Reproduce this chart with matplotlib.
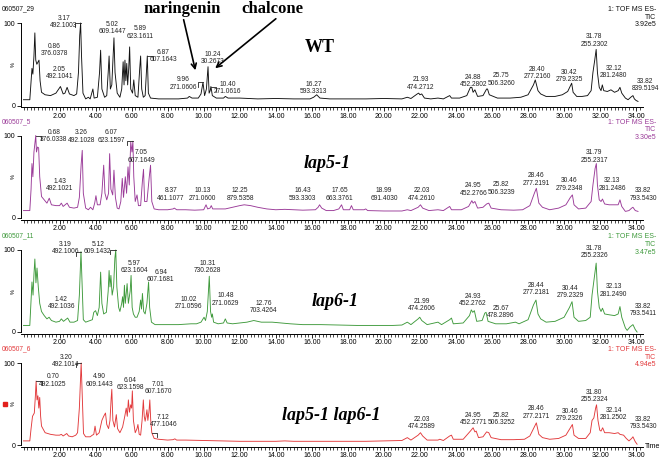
import matplotlib.pyplot as plt
from matplotlib.patches import FancyArrowPatch, Rectangle
import numpy as np

# chromatogram traces: (time min, % intensity)
wt_trace = [(0.00,7),(0.35,7),(0.42,30),(0.47,45),(0.52,38),(0.58,60),(0.63,88),(0.68,55),(0.74,50),(0.81,53),(0.86,55),(0.92,30),(1.00,16),(1.2,13),(1.5,12),(1.8,15),(2.05,23),(2.2,14),(2.3,15),(2.42,22),(2.55,14),(2.8,12),(2.95,14),(3.05,40),(3.12,85),(3.17,100),(3.22,60),(3.30,15),(3.45,8),(3.6,10),(3.7,8),(3.85,20),(3.92,9),(4.1,10),(4.22,40),(4.28,67),(4.35,20),(4.5,10),(4.62,12),(4.70,40),(4.75,60),(4.82,20),(4.9,25),(4.97,60),(5.02,82),(5.08,40),(5.2,15),(5.35,10),(5.45,20),(5.53,53),(5.58,25),(5.63,55),(5.68,30),(5.73,51),(5.78,25),(5.84,45),(5.89,71),(5.95,20),(6.05,15),(6.12,31),(6.2,12),(6.35,10),(6.45,45),(6.5,60),(6.56,20),(6.65,10),(6.75,12),(6.82,40),(6.87,60),(6.93,15),(7.05,9),(7.5,8),(8.2,8),(8.6,8),(9.1,9),(9.2,11),(9.35,9),(9.7,9),(9.85,14),(9.96,28),(10.05,12),(10.15,20),(10.24,47),(10.3,15),(10.36,18),(10.40,23),(10.48,12),(10.7,9),(11.1,9),(11.2,11),(11.35,9),(12.0,9),(13,8),(14,8.5),(15,8),(15.9,8),(16.1,10),(16.27,13),(16.45,9),(17.0,8),(18,8),(19,8),(20,8.5),(21,8),(21.3,10),(21.5,8.5),(21.85,14),(21.93,15),(22.0,13),(22.1,14),(22.25,9),(22.6,8),(23.0,9),(23.3,8),(23.65,12),(23.75,9),(24.2,9),(24.6,12),(24.8,22),(24.88,22),(24.95,16),(25.05,19),(25.2,11),(25.5,12),(25.7,20),(25.75,20),(25.85,13),(26.3,9),(27,9),(27.6,10),(28.0,13),(28.3,25),(28.4,31),(28.55,18),(28.7,14),(29.0,11),(29.5,11),(29.9,13),(30.2,17),(30.35,24),(30.42,27),(30.5,16),(30.7,11),(31.0,11),(31.3,12),(31.5,18),(31.6,40),(31.7,55),(31.78,68),(31.85,40),(31.95,22),(32.05,18),(32.12,25),(32.2,18),(32.4,17),(32.6,19),(32.8,16),(33.0,18),(33.1,22),(33.2,15),(33.4,9),(33.55,7),(33.7,10),(33.82,12),(33.9,8),(34.0,6),(34.1,5)]

lap5_trace = [(0.00,9),(0.35,9),(0.42,35),(0.47,66),(0.52,50),(0.58,80),(0.63,90),(0.68,100),(0.72,80),(0.78,86),(0.84,85),(0.9,50),(1.0,26),(1.15,22),(1.3,18),(1.43,24),(1.55,16),(1.8,15),(2.0,15),(2.1,18),(2.2,14),(2.42,18),(2.55,13),(2.8,12),(3.0,13),(3.1,25),(3.2,65),(3.26,82),(3.32,30),(3.45,12),(3.6,10),(3.72,13),(3.85,10),(3.95,18),(4.02,27),(4.1,16),(4.25,16),(4.35,30),(4.45,64),(4.52,30),(4.62,22),(4.72,30),(4.78,78),(4.85,35),(4.95,28),(5.02,58),(5.1,25),(5.2,12),(5.3,11),(5.4,20),(5.48,48),(5.55,25),(5.65,50),(5.72,30),(5.8,62),(5.87,40),(5.95,92),(6.02,80),(6.07,93),(6.12,50),(6.2,20),(6.3,28),(6.38,15),(6.5,15),(6.6,45),(6.66,59),(6.72,20),(6.85,20),(6.98,50),(7.05,64),(7.12,20),(7.25,11),(7.5,10),(8.0,10),(8.3,11),(8.37,12),(8.5,10),(9.0,10),(9.5,9.5),(10.0,10),(10.13,16),(10.22,11),(10.35,12),(10.42,15),(10.5,11),(10.8,11),(11.2,11),(11.6,13),(12.0,15),(12.25,16),(12.6,15),(13.0,13),(13.5,11),(14,10),(14.5,10.5),(15,10),(15.5,9.5),(16.2,10),(16.35,13),(16.43,16),(16.55,12),(16.8,9),(17.2,9),(17.5,11),(17.65,16),(17.75,10),(18.1,10),(18.2,15),(18.3,10),(18.9,10),(18.99,11),(19.1,9),(20,8.5),(21,8.5),(21.3,10),(21.5,9),(21.9,13),(22.03,16),(22.15,12),(22.5,9),(23.0,10),(23.3,9),(23.65,14),(23.75,10),(24.3,10),(24.7,14),(24.88,21),(24.95,18),(25.05,20),(25.2,12),(25.5,13),(25.7,17),(25.82,18),(25.95,12),(26.5,10),(27.2,9.5),(27.7,10),(28.1,15),(28.35,30),(28.46,36),(28.6,18),(28.8,13),(29.2,10),(29.7,12),(30.1,16),(30.35,25),(30.46,28),(30.55,16),(30.8,11),(31.2,12),(31.5,20),(31.6,40),(31.72,60),(31.79,66),(31.85,40),(31.95,22),(32.05,20),(32.13,23),(32.25,17),(32.5,16),(32.8,16),(33.0,16),(33.1,22),(33.2,14),(33.4,8),(33.6,9),(33.75,12),(33.82,13),(33.95,9),(34.1,8)]

lap6_trace = [(0.00,8),(0.35,8),(0.42,40),(0.47,61),(0.53,45),(0.58,70),(0.63,89),(0.69,60),(0.75,78),(0.82,55),(0.9,35),(1.0,25),(1.15,20),(1.3,16),(1.42,18),(1.55,14),(1.8,12),(2.0,13),(2.1,16),(2.22,13),(2.45,17),(2.58,12),(2.8,12),(3.0,14),(3.1,45),(3.19,98),(3.25,60),(3.32,15),(3.45,12),(3.7,14),(3.82,15),(3.9,24),(4.0,26),(4.1,20),(4.2,30),(4.28,73),(4.35,35),(4.45,22),(4.6,24),(4.7,50),(4.75,75),(4.8,55),(4.85,69),(4.92,45),(5.0,55),(5.07,90),(5.12,100),(5.18,55),(5.28,30),(5.35,25),(5.45,35),(5.5,43),(5.55,30),(5.6,57),(5.65,35),(5.75,59),(5.82,35),(5.92,50),(5.97,69),(6.03,30),(6.1,22),(6.2,18),(6.3,18),(6.42,25),(6.5,39),(6.55,28),(6.6,47),(6.67,25),(6.75,22),(6.85,35),(6.94,61),(7.0,30),(7.1,12),(7.3,9),(8,9),(8.6,9),(9.0,9.5),(9.3,10),(9.6,10),(9.85,12),(10.02,18),(10.1,14),(10.2,25),(10.31,68),(10.38,25),(10.44,18),(10.48,22),(10.55,12),(10.8,10),(11.1,11),(11.2,16),(11.3,11),(11.6,10),(12.0,11),(12.4,12),(12.78,14),(13.2,12),(13.8,12),(14.3,11),(14.8,10),(15.5,9),(16.5,9),(17.5,8.5),(18.5,8),(19.5,8),(20.5,8),(21.0,8.5),(21.3,12),(21.5,9),(21.9,16),(21.99,18),(22.1,14),(22.4,9),(23.0,12),(23.2,9),(23.65,15),(23.75,17),(23.85,10),(24.4,11),(24.75,20),(24.85,27),(24.93,24),(25.02,26),(25.15,13),(25.45,14),(25.6,23),(25.67,24),(25.78,13),(26.2,10),(26.8,10),(27.3,12),(27.5,10),(28.0,15),(28.3,33),(28.44,39),(28.55,22),(28.7,16),(29.0,12),(29.5,13),(30.0,18),(30.3,30),(30.44,37),(30.55,18),(30.8,13),(31.2,14),(31.45,18),(31.55,45),(31.7,70),(31.78,84),(31.85,50),(31.95,30),(32.05,25),(32.13,29),(32.25,22),(32.5,21),(32.8,20),(33.0,22),(33.1,31),(33.2,18),(33.4,5),(33.5,2),(33.65,6),(33.82,9),(33.95,3),(34.05,0)]

dbl_trace = [(0.00,5),(0.35,5),(0.42,20),(0.5,35),(0.6,39),(0.66,60),(0.70,78),(0.75,55),(0.8,60),(0.85,45),(0.9,58),(0.95,35),(1.0,23),(1.2,15),(1.5,13),(1.8,12),(2.0,12),(2.1,13),(2.2,11),(2.4,14),(2.5,11),(2.7,10),(2.9,12),(3.0,15),(3.1,45),(3.20,100),(3.26,60),(3.33,14),(3.45,10),(3.7,10),(3.82,12),(3.9,13),(3.97,23),(4.05,12),(4.2,15),(4.35,30),(4.45,35),(4.55,39),(4.62,25),(4.72,20),(4.8,30),(4.86,55),(4.90,68),(4.96,30),(5.05,22),(5.15,37),(5.22,20),(5.35,15),(5.5,22),(5.62,35),(5.7,45),(5.76,35),(5.82,55),(5.88,40),(5.95,49),(6.0,45),(6.04,66),(6.1,30),(6.2,15),(6.3,20),(6.35,25),(6.42,13),(6.5,12),(6.58,30),(6.65,55),(6.7,35),(6.75,29),(6.8,35),(6.85,43),(6.9,30),(6.96,40),(7.01,55),(7.06,30),(7.12,15),(7.25,8),(7.5,7),(8.0,6),(8.3,6.5),(8.4,7.5),(8.5,6),(9,6),(10,5.5),(11,5),(12,4.5),(13,4.5),(14,4.5),(14.5,5),(15,4.5),(16,4.5),(17,4.5),(18,4.5),(19,4.5),(20,5),(21.0,5.5),(21.3,9),(21.5,6),(21.9,12),(22.03,15),(22.15,11),(22.4,6),(23.0,6),(23.1,7),(23.3,5.5),(23.65,11),(23.75,12),(23.85,7),(24.4,7),(24.8,17),(24.95,21),(25.05,16),(25.12,17),(25.25,9),(25.5,10),(25.7,16),(25.82,15),(25.95,9),(26.5,6.5),(27.2,6.5),(27.8,7),(28.1,11),(28.35,22),(28.46,27),(28.6,13),(28.8,9),(29.2,7),(29.7,8),(30.1,12),(30.35,21),(30.46,25),(30.55,12),(30.8,8),(31.2,8),(31.45,15),(31.55,30),(31.65,33),(31.75,45),(31.80,49),(31.88,30),(31.98,18),(32.05,17),(32.14,21),(32.25,15),(32.5,15),(32.8,14),(33.0,15),(33.1,13),(33.3,12),(33.45,8),(33.6,5),(33.75,8),(33.82,10),(33.95,4),(34.05,1)]

# peak labels (rt, m/z)
wt_peaks = [("0.86","376.0378"),("2.05","492.1041"),("3.17","492.1003"),("5.02","609.1447"),("5.89","623.1611"),("6.87","607.1643"),("9.96","271.0606"),("10.24","30.2673"),("10.40","271.0616"),("16.27","593.3313"),("21.93","474.2712"),("24.88","452.2802"),("25.75","506.3260"),("28.40","277.2160"),("30.42","279.2325"),("31.78","255.2302"),("32.12","281.2480"),("33.82","839.5194")]
lap5_peaks = [("0.68","376.0338"),("1.43","492.1021"),("3.26","492.1028"),("6.07","623.1597"),("7.05","607.1649"),("8.37","461.1077"),("10.13","271.0600"),("12.25","879.5358"),("16.43","593.3303"),("17.65","663.3761"),("18.99","691.4030"),("22.03","474.2610"),("24.95","452.2766"),("25.82","506.3239"),("28.46","277.2191"),("30.46","279.2348"),("31.79","255.2317"),("32.13","281.2486"),("33.82","793.5430")]
lap6_peaks = [("3.19","492.1006"),("5.12","609.1432"),("1.42","492.1036"),("5.97","623.1604"),("6.94","607.1681"),("10.02","271.0596"),("10.31","730.2628"),("10.48","271.0629"),("12.76","703.4264"),("21.99","474.2606"),("24.93","452.2762"),("25.67","478.2896"),("28.44","277.2181"),("30.44","279.2329"),("31.78","255.2326"),("32.13","281.2490"),("33.82","793.5411")]
dbl_peaks = [("0.70","492.1025"),("3.20","492.1014"),("4.90","609.1443"),("6.04","623.1598"),("7.01","607.1670"),("7.12","477.1046"),("22.03","474.2589"),("24.95","452.2771"),("25.82","506.3252"),("28.46","277.2171"),("30.46","279.2326"),("31.80","255.2324"),("32.14","281.2502"),("33.82","793.5430")]

files = ["060507_29", "060507_5", "060507_11", "060507_6"]
scales = ["3.92e5", "3.30e5", "3.47e5", "4.94e5"]
names = ["WT", "lap5-1", "lap6-1", "lap5-1 lap6-1"]

# layout: label anchor (x in min, bottom in %) for each peak label
wt_lpos = [(1.72,59),(2.0,31),(2.25,93),(4.93,85),(6.49,80),(7.77,51),(8.87,18),(10.52,49),(11.34,13),(16.1,13),(22.04,18),(24.97,21),(26.5,23),(28.5,31),(30.3,27),(31.68,70),(32.76,32),(34.5,16)]
lap5_lpos = [(1.68,91),(2.0,31),(3.2,90),(4.86,90),(6.53,66),(8.19,20),(9.95,20),(12.02,20),(15.5,20),(17.55,20),(20.0,20),(22.1,20),(24.97,26),(26.5,27),(28.45,38),(30.3,32),(31.68,66),(32.67,32),(34.4,20)]
lap6_lpos = [(2.32,94),(4.12,94),(2.09,27),(6.14,71),(7.62,60),(9.18,27),(10.2,71),(11.2,31),(13.33,22),(22.1,24),(24.94,30),(26.5,16),(28.45,44),(30.32,40),(31.68,89),(32.76,42),(34.4,18)]
dbl_lpos = [(1.63,70),(2.35,94),(4.2,70),(5.94,66),(7.49,61),(7.77,21),(22.1,18),(24.97,23),(26.5,23),(28.45,31),(30.32,28),(31.68,51),(32.76,29),(34.4,18)]
# brackets joining a label to its apex: (apex time, apex %, side)
wt_br = [(3.17,100,-1),(6.87,60,1),(9.96,28,-1),(10.40,23,1)]
lap5_br = [(0.68,100,1),(6.07,93,-1)]
lap6_br = [(3.19,98,-1),(5.12,100,-1)]
dbl_br = [(3.20,100,-1),(0.70,78,1),(7.12,15,1)]

colors = ["#111111", "#9a3a98", "#3f9a3c", "#e2393b"]
W, H = 662, 458
T0, PXMIN = 23.5, 18.02
XL, XR = 21, 643
panel_px = [(105.5, 23), (218, 135.5), (332, 250), (445, 363)]

plt.rcParams['font.family'] = ['Liberation Sans', 'DejaVu Sans']
fig = plt.figure(figsize=(W / 100, H / 100), dpi=100)

def fx(px):
    return px / W

def fy(py):
    return 1 - py / H

traces = [wt_trace, lap5_trace, lap6_trace, dbl_trace]
peaks = [wt_peaks, lap5_peaks, lap6_peaks, dbl_peaks]
lposs = [wt_lpos, lap5_lpos, lap6_lpos, dbl_lpos]
brs = [wt_br, lap5_br, lap6_br, dbl_br]
for i in range(4):
    y0, y100 = panel_px[i]
    s = (y0 - y100) / 100.0
    bot, top = y0 + 2 * s, y100 - 2 * s
    ax = fig.add_axes([fx(XL), fy(bot), fx(XR - XL), (bot - top) / H])
    ax.set_xlim((XL - T0) / PXMIN, (XR - T0) / PXMIN)
    ax.set_ylim(-2, 102)
    c = colors[i]
    t = np.array([p[0] for p in traces[i]])
    v = np.array([p[1] for p in traces[i]])
    ax.plot(t, v, color=c, lw=0.65)
    for (rt, mz), (lx, ly) in zip(peaks[i], lposs[i]):
        ax.text(lx, ly, rt + "\n" + mz, ha='center', va='bottom', fontsize=4.8,
                linespacing=1.05, color='#222222', clip_on=False)
    for (bt, bh, side) in brs[i]:
        ax.plot([bt, bt + side * 0.3, bt + side * 0.3], [bh, bh, bh - 5],
                color='#222222', lw=0.6, clip_on=False)
    for sp in ['top', 'right']:
        ax.spines[sp].set_visible(False)
    ax.spines['left'].set_bounds(0, 100)
    ax.spines['left'].set_linewidth(0.7)
    ax.spines['bottom'].set_linewidth(0.7)
    ax.set_xticks(np.arange(2, 35, 2))
    ax.set_xticklabels(["%.2f" % x for x in np.arange(2, 35, 2)])
    ax.set_xticks(np.arange(0, 34.4, 0.2), minor=True)
    ax.tick_params(axis='x', which='major', length=3, width=0.6, labelsize=5, pad=1)
    ax.tick_params(axis='x', which='minor', length=2, width=0.5)
    ax.set_yticks([0, 100])
    ax.set_yticklabels(["0", "100"])
    ax.tick_params(axis='y', length=3, width=0.6, labelsize=5, pad=1)
    ax.text(-0.55, 50, "%", rotation=90, ha='center', va='center', fontsize=4, clip_on=False)
    fig.text(fx(2), fy(y100 - 14), files[i], fontsize=4.8, color=c, va='center', ha='left')
    fig.text(fx(656), fy(y100 - 17), "1: TOF MS ES-\nTIC\n" + scales[i], fontsize=5,
             color=c, ha='right', va='top', linespacing=1.15)
    ax.patch.set_alpha(0)

name_pos = [(320, 48), (327, 163), (335, 302), (331, 416)]
for i in range(4):
    fig.text(fx(name_pos[i][0]), fy(name_pos[i][1]), names[i], family='Liberation Serif',
             fontweight='bold', style='normal' if i == 0 else 'italic', fontsize=13,
             ha='center', va='center')

fig.text(fx(182), fy(9), "naringenin", family='Liberation Serif', fontweight='bold',
         fontsize=12, ha='center', va='center')
fig.text(fx(272), fy(9), "chalcone", family='Liberation Serif', fontweight='bold',
         fontsize=12, ha='center', va='center')
for (x1, y1, x2, y2) in [(183, 17, 196, 73), (278, 17, 213, 70)]:
    fig.add_artist(FancyArrowPatch((fx(x1), fy(y1)), (fx(x2), fy(y2)), transform=fig.transFigure,
                                   arrowstyle='->', mutation_scale=9, lw=1.2, color='black'))

fig.add_artist(Rectangle((fx(3), fy(406)), fx(4), 4 / H, transform=fig.transFigure,
                         color='#e2201c'))
fig.text(fx(645), fy(446), "Time", fontsize=5, ha='left', va='center')

fig.savefig("out.png", dpi=100)
